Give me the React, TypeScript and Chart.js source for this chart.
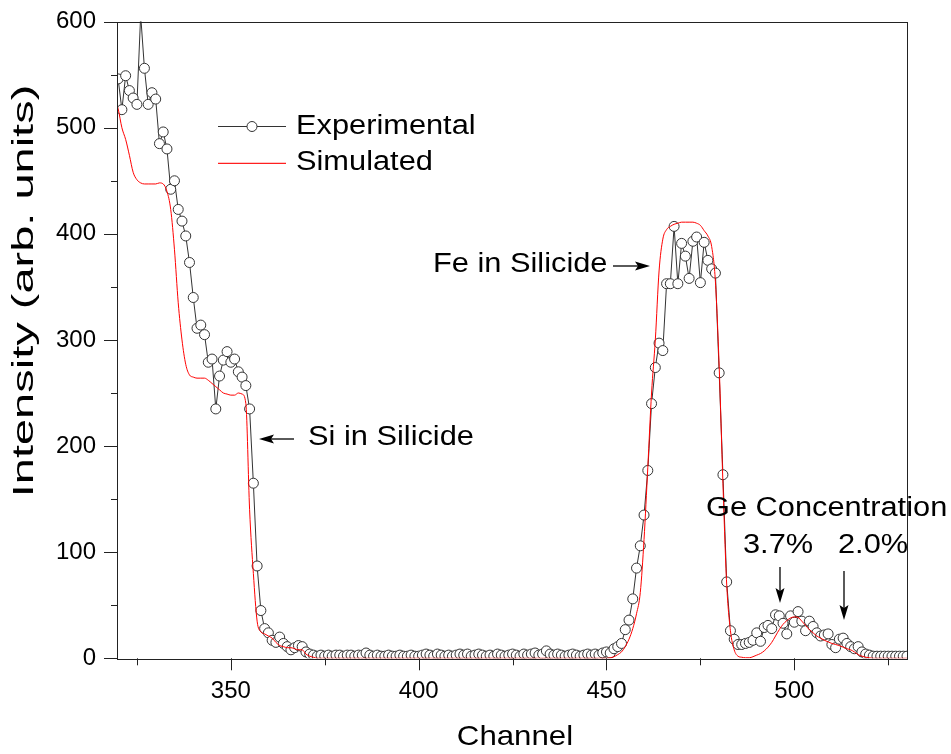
import { useEffect, useRef } from 'react';
import { Chart, registerables } from 'chart.js';

Chart.register(...registerables);

const FONT = '"Liberation Sans", Arial, Helvetica, sans-serif';

// ---------- Experimental spectrum (one value per channel) ----------
const expSiStart = 320; // channels 320..372
const expSi = [
  546, 517, 549, 535, 528, 522, 606, 556, 522, 533,
  527, 485, 496, 480, 442, 450, 423, 412, 398, 373,
  340, 311, 314, 305, 279, 282, 235, 266, 281, 289,
  279, 282, 270, 265, 257, 235, 165, 87, 45, 28,
  24, 17, 15, 20, 14, 11, 8, 10, 12, 11,
  6, 4, 3,
];
const expBaseStart = 373; // channels 373..449
const expBase = [
  2, 3, 2, 3, 2, 3, 3,
  2, 3, 3, 2, 3, 3, 5, 3, 2, 3,
  2, 2, 3, 2, 2, 3, 2, 2, 3, 2,
  2, 3, 4, 3, 2, 4, 3, 2, 3, 2,
  3, 4, 3, 4, 2, 3, 4, 3, 2, 3,
  2, 4, 3, 2, 3, 4, 3, 2, 4, 3,
  4, 5, 3, 4, 7, 4, 3, 4, 3, 2,
  3, 4, 3, 2, 3, 4, 3, 4, 3, 5,
];
const expFeStart = 450; // channels 450..489
const expFe = [
  6, 5, 9, 11, 14, 27, 36, 56, 85, 106,
  135, 177, 240, 274, 297, 290, 353, 353, 407, 353,
  391, 379, 358, 393, 397, 354, 392, 375, 367, 363,
  269, 173, 72, 26, 18, 13, 13, 14, 15, 17,
];
const expGeStart = 490; // channels 490..530
const expGe = [
  24, 16, 29, 31, 28, 41, 40, 33, 23, 40,
  34, 44, 35, 26, 35, 30, 24, 21, 22, 23,
  13, 10, 18, 19, 14, 11, 9, 11, 6, 4,
  3, 2, 2, 2, 2, 2, 2, 2, 2, 2, 2,
];

// ---------- Simulated spectrum ----------
const simSiStart = 319; // channels 319..372
const simSi = [
  530, 518, 500, 489, 474, 458, 451, 448, 447, 447,
  447, 447, 448, 447, 440, 423, 385, 335, 300, 277,
  267, 265, 264, 264, 264, 262, 259, 256, 253, 250,
  249, 248, 248, 250, 249, 240, 140, 80, 35, 25,
  23, 21, 19, 15, 12, 11, 10, 10, 9, 8,
  8, 4, 2, 1,
];
const simGapChannels = [373, 450];
const simGapValues = [0, 0];
const simFeStart = 451; // channels 451..530
const simFe = [
  0.5, 1.5, 3.5, 6, 11, 18, 28, 42, 62, 112,
  180, 250, 300, 365, 395, 404, 407, 409, 410, 411,
  411, 411, 411, 410, 408, 403, 398, 388, 355, 275,
  165, 70, 26, 8, 2, 1, 0.5, 0.5, 1.5, 3,
  4.5, 7, 10.5, 15, 21, 27, 32, 35.5, 38, 39,
  38.5, 35, 31, 27, 24, 21, 19, 17, 15.5, 14,
  13, 12, 10.5, 9, 8, 6, 3.5, 2, 1, 0.5,
  0, 0, 0, 0, 0, 0, 0, 0, 0, 0,
];

// ---------- Axes ----------
const xMin = 319.7;
const xMax = 530;
const xTickValues = [325, 350, 375, 400, 425, 450, 475, 500, 525];
const xLabelStep = 50;
const yMin = 0;
const yMax = 600;
const yTickValues = [0, 50, 100, 150, 200, 250, 300, 350, 400, 450, 500, 550, 600];
const yLabelStep = 100;

const toPoints = (start: number, arr: number[]) => arr.map((v, i) => ({ x: start + i, y: v }));

const experimentalPoints = [
  ...toPoints(expSiStart, expSi),
  ...toPoints(expBaseStart, expBase),
  ...toPoints(expFeStart, expFe),
  ...toPoints(expGeStart, expGe),
];
const simulatedPoints = [
  ...toPoints(simSiStart, simSi),
  ...simGapChannels.map((c, i) => ({ x: c, y: simGapValues[i] })),
  ...toPoints(simFeStart, simFe),
];

function sText(
  ctx: CanvasRenderingContext2D,
  text: string,
  x: number,
  y: number,
  size: number,
  align: CanvasTextAlign,
  sx = 1.14,
  rot = 0,
) {
  ctx.save();
  ctx.translate(x, y);
  if (rot) ctx.rotate(rot);
  ctx.scale(sx, 1);
  ctx.font = `${size}px ${FONT}`;
  ctx.textAlign = align;
  ctx.textBaseline = 'middle';
  ctx.fillStyle = '#000';
  ctx.fillText(text, 0, 0);
  ctx.restore();
}

function arrow(ctx: CanvasRenderingContext2D, x1: number, y1: number, x2: number, y2: number) {
  const ang = Math.atan2(y2 - y1, x2 - x1);
  const len = 15;
  const hw = 4.5;
  ctx.save();
  ctx.strokeStyle = '#000';
  ctx.fillStyle = '#000';
  ctx.lineWidth = 1.3;
  ctx.beginPath();
  ctx.moveTo(x1, y1);
  ctx.lineTo(x2 - Math.cos(ang) * len * 0.8, y2 - Math.sin(ang) * len * 0.8);
  ctx.stroke();
  ctx.beginPath();
  ctx.moveTo(x2, y2);
  ctx.lineTo(x2 - Math.cos(ang) * len - Math.sin(ang) * hw, y2 - Math.sin(ang) * len + Math.cos(ang) * hw);
  ctx.lineTo(x2 - Math.cos(ang) * len * 0.8, y2 - Math.sin(ang) * len * 0.8);
  ctx.lineTo(x2 - Math.cos(ang) * len + Math.sin(ang) * hw, y2 - Math.sin(ang) * len - Math.cos(ang) * hw);
  ctx.closePath();
  ctx.fill();
  ctx.restore();
}

function hLine(ctx: CanvasRenderingContext2D, x1: number, x2: number, y: number, color: string, w = 1) {
  ctx.save();
  ctx.strokeStyle = color;
  ctx.lineWidth = w;
  ctx.beginPath();
  ctx.moveTo(x1, y);
  ctx.lineTo(x2, y);
  ctx.stroke();
  ctx.restore();
}

const decorPlugin = {
  id: 'decor',
  afterDraw(chart: any) {
    const { ctx, chartArea: a, scales } = chart;
    const xs = scales.x;
    const ys = scales.y;
    ctx.save();
    // frame
    ctx.strokeStyle = '#222';
    ctx.lineWidth = 1;
    ctx.strokeRect(Math.round(a.left) + 0.5, Math.round(a.top) + 0.5, Math.round(a.right - a.left), Math.round(a.bottom - a.top));
    // tick marks
    ctx.beginPath();
    for (const v of xTickValues) {
      const px = Math.round(xs.getPixelForValue(v)) + 0.5;
      const len = v % xLabelStep === 0 ? 12 : 7;
      ctx.moveTo(px, a.bottom);
      ctx.lineTo(px, a.bottom + len);
    }
    for (const v of yTickValues) {
      const py = Math.round(ys.getPixelForValue(v)) + 0.5;
      const len = v % yLabelStep === 0 ? 13 : 6;
      ctx.moveTo(a.left - len, py);
      ctx.lineTo(a.left, py);
    }
    ctx.stroke();
    ctx.restore();

    // legend
    hLine(ctx, 218, 286, 126.5, '#333');
    ctx.save();
    ctx.strokeStyle = '#333';
    ctx.fillStyle = '#fff';
    ctx.lineWidth = 1;
    ctx.beginPath();
    ctx.arc(252, 126.5, 5, 0, Math.PI * 2);
    ctx.fill();
    ctx.stroke();
    ctx.restore();
    hLine(ctx, 218, 286, 163.3, '#ff2020', 1.3);
    sText(ctx, 'Experimental', 296, 127, 27, 'left');
    sText(ctx, 'Simulated', 296, 163, 27, 'left');

    // annotations
    sText(ctx, 'Fe in Silicide', 433, 265, 27, 'left');
    arrow(ctx, 613, 266, 650, 266);
    sText(ctx, 'Si in Silicide', 308, 438, 27, 'left');
    arrow(ctx, 294, 439, 259, 439);
    sText(ctx, 'Ge Concentration', 706, 509, 27, 'left');
    sText(ctx, '3.7%', 743, 546, 27, 'left');
    sText(ctx, '2.0%', 838, 546, 27, 'left');
    arrow(ctx, 780, 567, 780, 603);
    arrow(ctx, 844, 571, 844, 620);

    // axis titles
    sText(ctx, 'Channel', 515, 737, 27.4, 'center');
    sText(ctx, 'Intensity (arb. units)', 25, 291, 29, 'center', 1.62, -Math.PI / 2);
  },
};

export default function App() {
  const ref = useRef<HTMLCanvasElement>(null);
  useEffect(() => {
    const canvas = ref.current!;
    const chart = new Chart(canvas, {
      type: 'line',
      data: {
        datasets: [
          {
            label: 'Experimental',
            data: experimentalPoints,
            borderColor: '#333',
            borderWidth: 1,
            pointRadius: 5,
            pointBackgroundColor: '#fff',
            pointBorderColor: '#333',
            pointBorderWidth: 1,
            tension: 0,
            order: 1,
          },
          {
            label: 'Simulated',
            data: simulatedPoints,
            borderColor: '#ff0000',
            borderWidth: 1,
            pointRadius: 0,
            cubicInterpolationMode: 'monotone',
            order: 0,
          },
        ],
      },
      options: {
        animation: false,
        responsive: false,
        devicePixelRatio: 1,
        parsing: false,
        layout: { padding: { left: 0, top: 21.6, right: 44, bottom: 0 } },
        plugins: { legend: { display: false }, tooltip: { enabled: false } },
        scales: {
          x: {
            type: 'linear',
            min: xMin,
            max: xMax,
            afterBuildTicks: (s: any) => {
              s.ticks = xTickValues.map((v) => ({ value: v }));
            },
            afterFit: (s: any) => {
              s.height = 95.7;
              s.paddingLeft = 0;
              s.paddingRight = 0;
            },
            grid: { display: false, drawTicks: false },
            border: { display: false },
            ticks: {
              autoSkip: false,
              maxRotation: 0,
              padding: 19,
              color: '#000',
              font: { family: FONT, size: 24 },
              callback: (v: any) => (Number(v) % xLabelStep === 0 ? String(v) : ''),
            },
          },
          y: {
            type: 'linear',
            min: yMin,
            max: yMax,
            afterBuildTicks: (s: any) => {
              s.ticks = yTickValues.map((v) => ({ value: v }));
            },
            afterFit: (s: any) => {
              s.width = 117;
              s.paddingTop = 0;
              s.paddingBottom = 0;
            },
            grid: { display: false, drawTicks: false },
            border: { display: false },
            ticks: {
              autoSkip: false,
              padding: 21,
              color: '#000',
              font: { family: FONT, size: 24 },
              callback: (v: any) => (Number(v) % yLabelStep === 0 ? String(v) : ''),
            },
          },
        },
      },
      plugins: [decorPlugin],
    });
    return () => chart.destroy();
  }, []);
  return (
    <div style={{ position: 'absolute', left: 0, top: 0, width: 951, height: 754, background: '#fff' }}>
      <canvas ref={ref} width={951} height={754} style={{ display: 'block', width: 951, height: 754 }} />
    </div>
  );
}
